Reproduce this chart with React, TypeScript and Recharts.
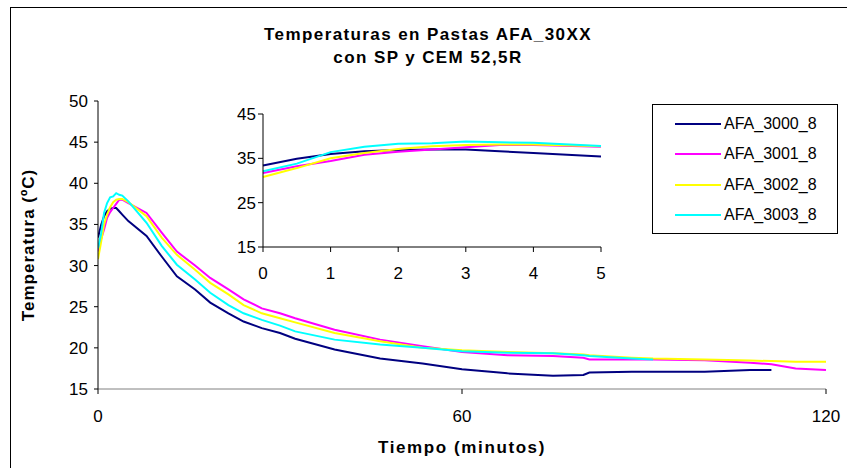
import React from "react";
import { Legend, Line, LineChart, XAxis, YAxis } from "recharts";

// minutos desde el amasado
const minutes = [
  0, 0.5, 1, 1.5, 2, 2.5, 3, 3.5, 4, 5, 8, 10.5, 13, 16, 18.5, 21.5, 24, 27, 30, 32.5, 39, 46.5,
  53.5, 60, 67.5, 75, 80, 81, 88, 91.5, 100, 107.5, 111, 115, 120
];

const afa3000 = [
  33.4, 34.9, 36.0, 36.6, 36.9, 37.0, 37.0, 36.6, 36.2, 35.4, 33.6, 31.1, 28.7, 27.1, 25.5, 24.2,
  23.2, 22.4, 21.8, 21.1, 19.8, 18.7, 18.1, 17.4, 16.9, 16.6, 16.7, 17.0, 17.1, 17.1, 17.1, 17.3,
  17.3, null, null
];
const afa3001 = [
  31.7, 33.2, 34.4, 35.8, 36.5, 37.0, 37.5, 38.0, 38.0, 37.6, 36.4, 34.0, 31.7, 30.0, 28.5, 27.1,
  25.9, 24.8, 24.2, 23.6, 22.2, 21.0, 20.2, 19.5, 19.1, 19.0, 18.8, 18.6, 18.6, 18.6, 18.5, 18.2,
  18.0, 17.5, 17.3
];
const afa3002 = [
  30.8, 32.8, 35.0, 36.2, 37.1, 37.7, 38.0, 38.1, 38.1, 37.7, 36.0, 33.4, 31.3, 29.5, 27.9, 26.5,
  25.2, 24.2, 23.6, 23.1, 21.8, 20.8, 20.0, 19.7, 19.5, 19.35, 19.2, 19.1, 18.8, 18.7, 18.6, 18.45,
  18.4, 18.3, 18.3
];
const afa3003 = [
  32.1, 33.8, 36.4, 37.6, 38.3, 38.4, 38.8, 38.6, 38.5, 37.8, 35.2, 32.4, 30.1, 28.3, 26.7, 25.2,
  24.2, 23.4, 22.7, 22.0, 21.0, 20.4, 20.0, 19.6, 19.4, 19.35, 19.1, 19.0, 18.7, 18.6, null, null,
  null, null, null
];

const seriesNames = ["AFA_3000_8", "AFA_3001_8", "AFA_3002_8", "AFA_3003_8"];
const seriesValues = [afa3000, afa3001, afa3002, afa3003];
const seriesColors = ["#000080", "#ff00ff", "#ffff00", "#00ffff"];

const mainXTicks = [0, 60, 120];
const mainYTicks = [15, 20, 25, 30, 35, 40, 45, 50];
const insetXTicks = [0, 1, 2, 3, 4, 5];
const insetYTicks = [15, 25, 35, 45];

const rows = minutes.map((t, i) => {
  const row: Record<string, number | null> = { t };
  seriesNames.forEach((name, s) => {
    row[name] = seriesValues[s][i];
  });
  return row;
});
const insetRows = rows.filter((r) => (r.t as number) <= 5);

const FONT = '"Liberation Sans", Arial, sans-serif';

function LegendBox({ payload }: any) {
  const items = seriesNames.map((name) => payload?.find((p: any) => p.value === name) ?? { value: name });
  return (
    <div
      style={{
        border: "1px solid #000",
        width: 184,
        height: 124,
        background: "#fff",
        fontFamily: FONT,
        fontSize: 16,
        color: "#000",
        paddingTop: 4
      }}
    >
      {items.map((p: any, i: number) => (
        <div key={p.value} style={{ display: "flex", alignItems: "center", height: 30.3 }}>
          <span
            style={{
              display: "inline-block",
              marginLeft: 22,
              width: 46,
              height: 2,
              background: seriesColors[i]
            }}
          />
          <span style={{ marginLeft: 3 }}>{p.value}</span>
        </div>
      ))}
    </div>
  );
}

export default function App() {
  return (
    <div
      style={{
        position: "absolute",
        left: 0,
        top: 0,
        width: 847,
        height: 468,
        overflow: "hidden",
        background: "#fff",
        fontFamily: FONT
      }}
    >
      <div
        style={{
          position: "absolute",
          left: 10,
          top: 7,
          width: 900,
          height: 520,
          border: "1px solid #000"
        }}
      />
      <div
        style={{
          position: "absolute",
          left: 0,
          width: 856,
          top: 23,
          textAlign: "center",
          fontWeight: "bold",
          fontSize: 17,
          letterSpacing: 1.4,
          lineHeight: "23px",
          color: "#000"
        }}
      >
        Temperaturas en Pastas AFA_30XX
        <br />
        con SP y CEM 52,5R
      </div>

      <div style={{ position: "absolute", left: 0, top: 0 }}>
        <LineChart
          width={847}
          height={468}
          data={rows}
          margin={{ top: 101, right: 21, bottom: 49, left: 38 }}
        >
          <XAxis
            dataKey="t"
            type="number"
            domain={[0, 120]}
            ticks={mainXTicks}
            allowDataOverflow
            stroke="#808080"
            tickSize={5}
            tickMargin={16}
            height={30}
            tick={{ fill: "#000", fontSize: 17, fontFamily: FONT }}
            tickLine={{ stroke: "#000" }}
            label={{
              value: "Tiempo (minutos)",
              position: "bottom",
              offset: 22,
              fill: "#000",
              fontSize: 17,
              fontWeight: "bold",
              fontFamily: FONT,
              letterSpacing: 1.6
            }}
          />
          <YAxis
            type="number"
            domain={[15, 50]}
            ticks={mainYTicks}
            allowDataOverflow
            stroke="#000"
            width={60}
            tickSize={4}
            tickMargin={6}
            tick={{ fill: "#000", fontSize: 17, fontFamily: FONT }}
            label={{
              value: "Temperatura (ºC)",
              position: "center",
              angle: -90,
              dx: -40,
              fill: "#000",
              fontSize: 17,
              fontWeight: "bold",
              fontFamily: FONT,
              letterSpacing: 1
            }}
          />
          {seriesNames.map((name, i) => (
            <Line
              key={name}
              type="linear"
              dataKey={name}
              name={name}
              stroke={seriesColors[i]}
              strokeWidth={2}
              dot={false}
              isAnimationActive={false}
            />
          ))}
          <Legend
            layout="vertical"
            align="center"
            verticalAlign="middle"
            content={<LegendBox />}
            wrapperStyle={{ left: 652, top: 104, width: 186, height: 126 }}
          />
        </LineChart>
      </div>

      <div style={{ position: "absolute", left: 200, top: 100 }}>
        <LineChart
          width={420}
          height={190}
          data={insetRows}
          margin={{ top: 14, right: 19, bottom: 13, left: 13 }}
        >
          <XAxis
            dataKey="t"
            type="number"
            domain={[0, 5]}
            ticks={insetXTicks}
            stroke="#000"
            tickSize={5}
            tickMargin={15}
            height={30}
            tick={{ fill: "#000", fontSize: 17, fontFamily: FONT }}
          />
          <YAxis
            type="number"
            domain={[15, 45]}
            ticks={insetYTicks}
            stroke="#000"
            width={50}
            tickSize={5}
            tickMargin={2}
            tick={{ fill: "#000", fontSize: 17, fontFamily: FONT }}
          />
          {seriesNames.map((name, i) => (
            <Line
              key={name}
              type="linear"
              dataKey={name}
              stroke={seriesColors[i]}
              strokeWidth={2}
              dot={false}
              isAnimationActive={false}
            />
          ))}
        </LineChart>
      </div>
    </div>
  );
}
